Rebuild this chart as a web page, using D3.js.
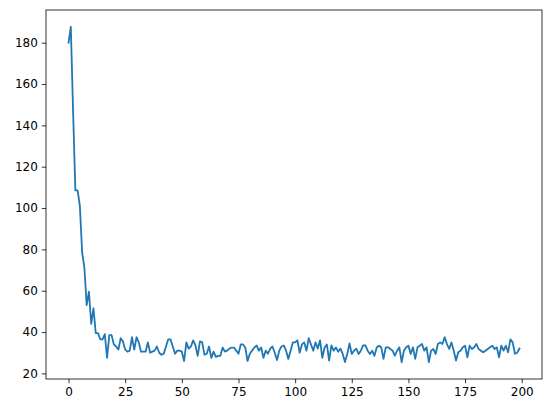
<!DOCTYPE html>
<html>
<head>
<meta charset="utf-8">
<script src="https://cdn.jsdelivr.net/npm/d3@7"></script>
<style>
  html, body { margin: 0; padding: 0; background: #fff; }
  svg { display: block; }
  .tick text { font-family: "DejaVu Sans", sans-serif; font-size: 12px; fill: #000; }
</style>
</head>
<body>
<svg id="chart" width="552" height="413"></svg>
<script>
// Data
const values = [
  180, 187.7, 147, 108.5, 108.5, 101, 78.5, 71, 53, 59.5,
  44, 51.5, 39.5, 39.5, 36.5, 36.5, 39, 27.5, 38.5, 38.5,
  34, 33, 31.5, 37, 35.5, 31.5, 30.5, 31, 37.5, 31.5,
  37.5, 35, 30.5, 30.5, 30.5, 35, 30, 30.5, 31, 33,
  30, 29, 29.5, 33, 36.5, 36.5, 33, 29.5, 31, 31,
  30.5, 26, 35, 32, 33, 36, 33.5, 28.5, 35.5, 35,
  29, 29.5, 33, 27.5, 30.5, 28, 28.5, 28.5, 32.5, 30.5,
  31, 32, 32.5, 32.5, 31, 29.5, 34, 34, 32.5, 26,
  29.5, 31, 32.5, 33.5, 31, 32.5, 27.5, 31, 29.5, 32,
  33, 30, 26.5, 31, 33, 33.5, 31, 27, 31, 35,
  35, 36, 30, 34, 35, 31, 37, 34, 31, 35,
  32, 36, 27.5, 32.5, 34, 26.2, 33.5, 31, 32.5, 30.5,
  32, 29.4, 25.5, 29.4, 34.5, 29.4, 31, 32, 29.4, 31,
  33.5, 33.5, 31, 29.4, 31, 28.5, 32.5, 33.4, 32.6, 27,
  32.6, 32.6, 31.8, 31, 28.6, 31, 32.6, 25.4, 31, 32.6,
  33.4, 29.4, 32.6, 27, 32.6, 33.4, 34.2, 31, 32.6, 25.4,
  31, 31.8, 29.4, 34.2, 35, 34.2, 37.5, 34.2, 31.8, 35,
  31, 26.2, 30.2, 31, 32.6, 33.4, 27.8, 33.4, 31.8, 32.6,
  34.2, 31.8, 31, 30.2, 31, 31.8, 32.6, 33.4, 31.8, 32.6,
  27.8, 33.4, 31, 33.4, 30.2, 36.5, 35, 29.5, 30, 32
];
const steps = values.map((_, i) => i);
const xTickValues = [0, 25, 50, 75, 100, 125, 150, 175, 200];
const yTickValues = [20, 40, 60, 80, 100, 120, 140, 160, 180];

(function () {
  const svg = d3.select("#chart");
  const pL = 46, pR = 542, pT = 10, pB = 379;

  const xMin = d3.min(steps), xMax = d3.max(steps);
  const xPad = (xMax - xMin) * 0.05;
  const yMin = d3.min(values), yMax = d3.max(values);
  const yPad = (yMax - yMin) * 0.05;

  const x = d3.scaleLinear().domain([xMin - xPad, xMax + xPad]).range([pL, pR]);
  const y = d3.scaleLinear().domain([yMin - yPad, yMax + yPad]).range([pB, pT]);

  const xAxis = d3.axisBottom(x).tickValues(xTickValues).tickSize(4.2).tickPadding(4).tickFormat(d3.format("d"));
  const yAxis = d3.axisLeft(y).tickValues(yTickValues).tickSize(4.2).tickPadding(4).tickFormat(d3.format("d"));

  const gx = svg.append("g").attr("transform", `translate(0,${pB})`).call(xAxis);
  const gy = svg.append("g").attr("transform", `translate(${pL},0)`).call(yAxis);
  [gx, gy].forEach(g => {
    g.select(".domain").remove();
    g.selectAll(".tick line").attr("stroke", "#000").attr("stroke-width", 0.8);
  });

  const line = d3.line().x((d, i) => x(steps[i])).y(d => y(d));
  svg.append("path")
    .datum(values)
    .attr("d", line)
    .attr("fill", "none")
    .attr("stroke", "#1f77b4")
    .attr("stroke-width", 1.8)
    .attr("stroke-linejoin", "round")
    .attr("stroke-linecap", "square");

  svg.append("rect")
    .attr("x", pL).attr("y", pT)
    .attr("width", pR - pL).attr("height", pB - pT)
    .attr("fill", "none").attr("stroke", "#000").attr("stroke-width", 0.8);
})();
</script>
</body>
</html>
